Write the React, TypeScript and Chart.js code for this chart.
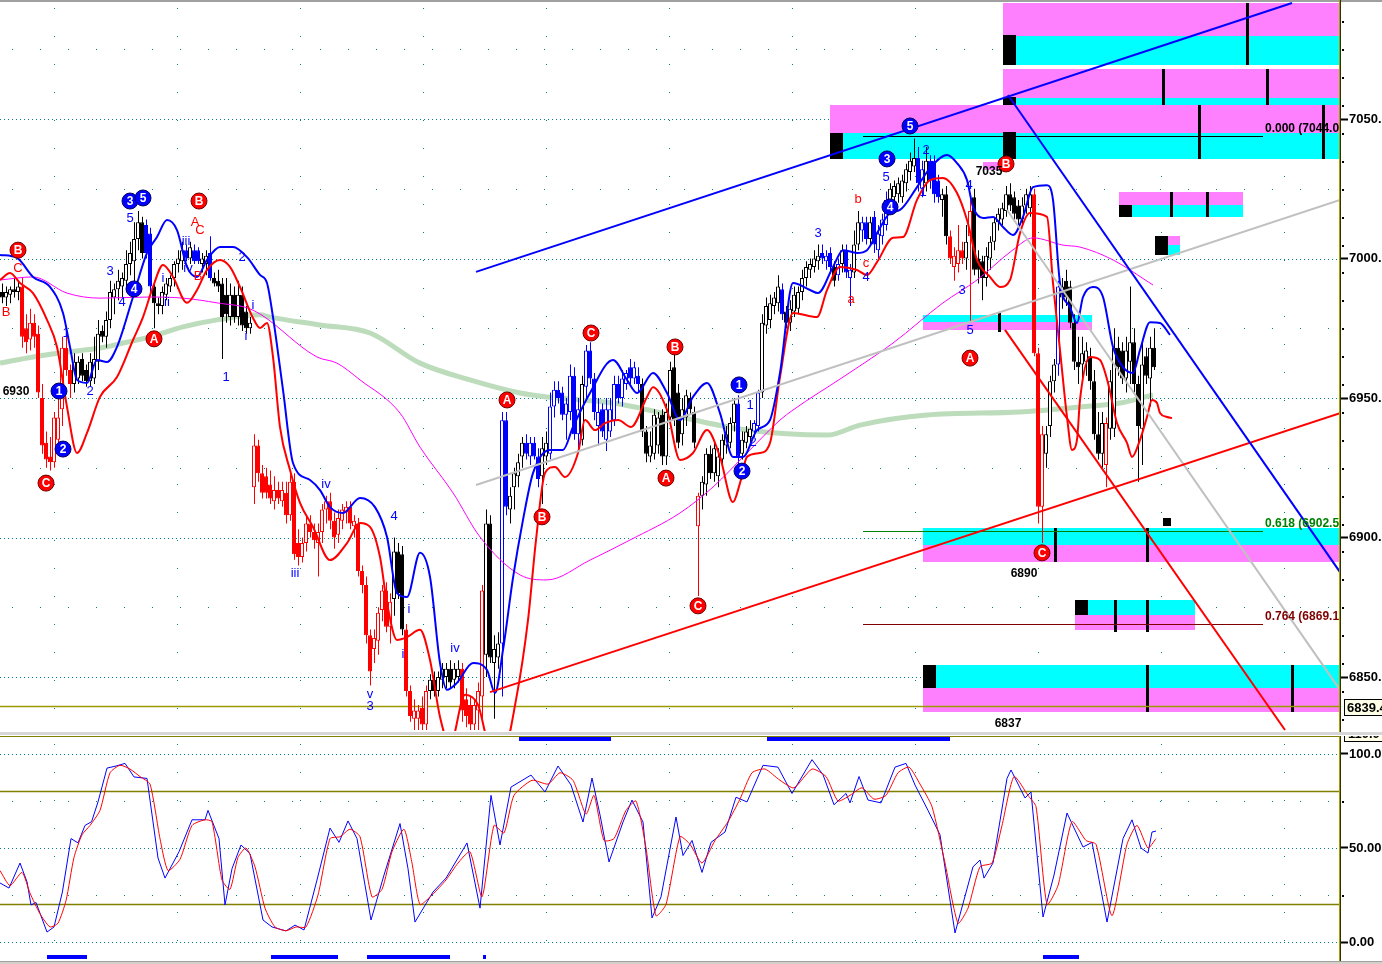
import React, { useEffect, useRef } from 'react';
import { Chart, registerables } from 'chart.js';

Chart.register(...registerables);

const FONT = '"Liberation Sans", Arial, Helvetica, sans-serif';

// ---------------- candles (one per bar index) ----------------
const opens = [
  6988, 6986, 6987, 6989, 6988, 6990, 6975, 6971, 6977, 6973, 6950, 6934, 6929, 6927, 6935, 6946, 6968, 6960, 6955, 6957,
  6964, 6960, 6956, 6957, 6963, 6974, 6972, 6978, 6986, 6989, 6990, 6992, 6998, 6999, 7007, 7013, 7012, 7009, 6990, 6984,
  6983, 6987, 6990, 6993, 6998, 6999, 7003, 7000, 7003, 7003, 6998, 6998, 7002, 6993, 6992, 6991, 6987, 6979, 6987, 6979,
  6987, 6981, 6975, 6918, 6933, 6923, 6922, 6919, 6913, 6917, 6913, 6916, 6908, 6920, 6898, 6893, 6898, 6905, 6902, 6898,
  6902, 6910, 6913, 6906, 6901, 6906, 6909, 6911, 6904, 6905, 6888, 6883, 6865, 6860, 6863, 6874, 6881, 6868, 6878, 6895,
  6894, 6867, 6845, 6835, 6835, 6839, 6833, 6845, 6849, 6845, 6849, 6850, 6853, 6849, 6850, 6853, 6842, 6840, 6833, 6838,
  6843, 6858, 6905, 6855, 6857, 6862, 6942, 6910, 6918, 6922, 6929, 6934, 6929, 6934, 6929, 6922, 6929, 6930, 6947, 6953,
  6952, 6944, 6945, 6958, 6937, 6935, 6954, 6967, 6957, 6940, 6946, 6935, 6938, 6942, 6955, 6950, 6955, 6961, 6957, 6958,
  6955, 6938, 6929, 6930, 6933, 6944, 6929, 6943, 6961, 6952, 6937, 6943, 6950, 6945, 6904, 6915, 6919, 6930, 6923, 6922,
  6928, 6933, 6934, 6941, 6948, 6930, 6934, 6936, 6938, 6940, 6952, 6976, 6978, 6983, 6984, 6989, 6981, 6977, 6981, 6982,
  6988, 6993, 6996, 6997, 6999, 7002, 6999, 7002, 6997, 6994, 6998, 7003, 6993, 6995, 7005, 7010, 7013, 7007, 7015, 7003,
  7008, 7012, 7020, 7022, 7023, 7022, 7027, 7031, 7033, 7036, 7025, 7027, 7035, 7035, 7028, 7021, 7023, 7008, 6997, 6998,
  7003, 7000, 7008, 7022, 7000, 6999, 6993, 7000, 7006, 7013, 7014, 7017, 7023, 7022, 7019, 7014, 7019, 7018, 7023, 6966,
  6911, 6930, 6940, 6956, 6962, 6986, 6992, 6990, 6977, 6963, 6962, 6963, 6965, 6956, 6937, 6930, 6926, 6939, 6939, 6968,
  6967, 6957, 6963, 6970, 6955, 6939, 6965, 6957, 6968
];
const highs = [
  6991, 6990, 6990, 6993, 6992, 6993, 6980, 6982, 6980, 6976, 6955, 6938, 6936, 6945, 6950, 6972, 6975, 6962, 6966, 6965,
  6966, 6962, 6966, 6972, 6978, 6976, 6981, 6992, 6991, 6996, 6995, 7003, 7006, 7013, 7017, 7015, 7014, 7011, 6992, 6986,
  6990, 6993, 6994, 6999, 7003, 7006, 7005, 7006, 7005, 7004, 7002, 7003, 7008, 6995, 6996, 6993, 6993, 6991, 6990, 6992,
  6990, 6983, 6979, 6937, 6935, 6926, 6925, 6924, 6922, 6920, 6920, 6920, 6923, 6923, 6903, 6900, 6908, 6908, 6905, 6905,
  6912, 6915, 6916, 6909, 6910, 6912, 6913, 6913, 6908, 6907, 6890, 6886, 6867, 6867, 6875, 6883, 6884, 6880, 6900, 6898,
  6897, 6869, 6847, 6842, 6840, 6843, 6847, 6851, 6852, 6852, 6855, 6855, 6856, 6855, 6856, 6855, 6846, 6843, 6842, 6848,
  6883, 6910, 6908, 6865, 6866, 6945, 6945, 6918, 6925, 6930, 6936, 6937, 6936, 6936, 6932, 6936, 6938, 6952, 6956, 6956,
  6954, 6950, 6962, 6961, 6950, 6958, 6969, 6970, 6959, 6950, 6948, 6950, 6950, 6958, 6958, 6960, 6960, 6964, 6963, 6961,
  6957, 6940, 6938, 6946, 6945, 6946, 6948, 6963, 6966, 6955, 6950, 6953, 6952, 6947, 6916, 6922, 6932, 6933, 6934, 6932,
  6937, 6940, 6943, 6950, 6951, 6938, 6940, 6942, 6942, 6953, 6980, 6986, 6987, 6988, 6994, 6991, 6983, 6985, 6990, 6990,
  6996, 6999, 7000, 7003, 7005, 7005, 7003, 7004, 6999, 7000, 7005, 7005, 6998, 7010, 7017, 7015, 7015, 7015, 7017, 7012,
  7016, 7024, 7027, 7028, 7029, 7030, 7034, 7038, 7043, 7040, 7035, 7040, 7037, 7037, 7030, 7025, 7026, 7010, 7004, 7012,
  7006, 7012, 7023, 7025, 7003, 7001, 7004, 7008, 7015, 7018, 7020, 7026, 7027, 7024, 7021, 7022, 7025, 7026, 7025, 6968,
  6940, 6940, 6958, 6964, 6992, 6993, 6996, 6992, 6980, 6972, 6972, 6970, 6968, 6960, 6945, 6945, 6943, 6960, 6975, 6972,
  6970, 6972, 6990, 6975, 6958, 6970, 6968, 6972, 6975
];
const lows = [
  6984, 6983, 6984, 6986, 6985, 6968, 6966, 6967, 6968, 6950, 6930, 6925, 6924, 6925, 6930, 6940, 6958, 6950, 6952, 6955,
  6956, 6954, 6954, 6955, 6960, 6970, 6968, 6975, 6980, 6985, 6986, 6988, 6994, 6990, 7003, 7000, 7000, 6988, 6975, 6980,
  6980, 6985, 6988, 6990, 6995, 6996, 6999, 6998, 6998, 6998, 6995, 6994, 6992, 6990, 6988, 6964, 6977, 6976, 6977, 6976,
  6974, 6973, 6973, 6912, 6920, 6914, 6914, 6912, 6910, 6912, 6911, 6905, 6906, 6892, 6890, 6891, 6895, 6900, 6896, 6886,
  6898, 6905, 6903, 6896, 6898, 6903, 6905, 6903, 6900, 6886, 6880, 6862, 6847, 6855, 6858, 6870, 6866, 6862, 6872, 6878,
  6865, 6843, 6834, 6831, 6831, 6831, 6831, 6842, 6843, 6843, 6846, 6846, 6846, 6846, 6848, 6834, 6832, 6831, 6831, 6831,
  6835, 6850, 6855, 6835, 6853, 6843, 6908, 6905, 6910, 6918, 6925, 6928, 6926, 6928, 6918, 6912, 6926, 6928, 6943, 6948,
  6942, 6935, 6942, 6935, 6932, 6933, 6950, 6955, 6942, 6933, 6936, 6931, 6936, 6940, 6948, 6947, 6953, 6955, 6955, 6952,
  6936, 6927, 6927, 6928, 6930, 6926, 6926, 6940, 6940, 6932, 6933, 6940, 6944, 6932, 6879, 6910, 6915, 6921, 6920, 6918,
  6925, 6930, 6932, 6938, 6926, 6928, 6932, 6933, 6936, 6938, 6950, 6973, 6975, 6980, 6981, 6978, 6975, 6974, 6979, 6980,
  6985, 6990, 6993, 6995, 6996, 6998, 6996, 6995, 6990, 6992, 6995, 6993, 6983, 6993, 7003, 7006, 7005, 7005, 7002, 7000,
  7005, 7010, 7017, 7020, 7020, 7020, 7024, 7028, 7031, 7024, 7022, 7024, 7025, 7020, 7020, 7015, 7005, 6998, 6992, 6995,
  6998, 6996, 6977, 6994, 6991, 6985, 6990, 6996, 7003, 7010, 7012, 7015, 7017, 7014, 7012, 7012, 7016, 7015, 6965, 6905,
  6898, 6925, 6936, 6952, 6958, 6982, 6983, 6975, 6960, 6955, 6955, 6958, 6953, 6935, 6928, 6925, 6918, 6935, 6936, 6958,
  6955, 6952, 6955, 6952, 6920, 6926, 6955, 6947, 6960
];
const closes = [
  6986, 6988, 6989, 6988, 6990, 6972, 6970, 6977, 6972, 6952, 6933, 6928, 6927, 6943, 6943, 6968, 6960, 6955, 6963, 6963,
  6958, 6956, 6963, 6964, 6973, 6972, 6978, 6988, 6989, 6992, 6993, 6998, 7002, 7007, 7013, 7002, 7002, 6990, 6984, 6983,
  6988, 6991, 6993, 6998, 7000, 7003, 7000, 7004, 6999, 6999, 7000, 7001, 6993, 6991, 6990, 6979, 6980, 6987, 6979, 6987,
  6976, 6975, 6977, 6933, 6923, 6916, 6916, 6914, 6917, 6914, 6917, 6908, 6920, 6894, 6893, 6898, 6905, 6902, 6899, 6902,
  6910, 6913, 6906, 6900, 6907, 6910, 6911, 6905, 6906, 6888, 6883, 6865, 6852, 6864, 6873, 6881, 6868, 6877, 6895, 6880,
  6867, 6845, 6836, 6838, 6838, 6833, 6845, 6849, 6845, 6850, 6853, 6853, 6848, 6853, 6853, 6838, 6836, 6833, 6840, 6845,
  6881, 6905, 6857, 6860, 6862, 6942, 6911, 6915, 6923, 6927, 6934, 6930, 6934, 6929, 6921, 6932, 6934, 6947, 6953, 6950,
  6944, 6948, 6958, 6937, 6946, 6955, 6967, 6957, 6945, 6945, 6938, 6946, 6946, 6955, 6950, 6957, 6959, 6957, 6961, 6955,
  6938, 6930, 6933, 6944, 6943, 6929, 6945, 6960, 6942, 6934, 6946, 6951, 6946, 6934, 6915, 6920, 6930, 6923, 6932, 6929,
  6935, 6937, 6941, 6948, 6929, 6935, 6938, 6939, 6941, 6952, 6977, 6983, 6984, 6986, 6990, 6980, 6977, 6982, 6987, 6988,
  6993, 6997, 6998, 7000, 7001, 7000, 7001, 6997, 6992, 6998, 7003, 6995, 6996, 7005, 7013, 7013, 7007, 7013, 7005, 7009,
  7014, 7021, 7025, 7026, 7027, 7028, 7032, 7035, 7036, 7027, 7032, 7035, 7028, 7023, 7022, 7023, 7008, 7000, 7001, 7003,
  7000, 7006, 7017, 6996, 6996, 6993, 7001, 7006, 7013, 7016, 7018, 7023, 7019, 7016, 7014, 7019, 7023, 7023, 6966, 6911,
  6937, 6937, 6956, 6962, 6990, 6990, 6986, 6977, 6963, 6961, 6966, 6967, 6956, 6937, 6930, 6941, 6941, 6956, 6968, 6961,
  6957, 6967, 6970, 6955, 6940, 6962, 6958, 6968, 6961
];
// k = black/white, r = red, b = blue candles (run-length)
const candleColorRuns: [string, number][] = [
  ['k', 5], ['r', 13], ['k', 18], ['b', 2], ['k', 8], ['b', 1], ['k', 1], ['b', 2], ['k', 2], ['b', 1], ['k', 10],
  ['r', 35], ['k', 3], ['r', 6], ['k', 8], ['r', 6], ['k', 4], ['b', 2], ['k', 4], ['b', 4], ['k', 2], ['b', 8],
  ['k', 1], ['b', 14], ['k', 14], ['r', 1], ['k', 9], ['b', 1], ['k', 3], ['b', 2], ['k', 5], ['b', 1], ['k', 9],
  ['b', 3], ['k', 1], ['b', 1], ['k', 1], ['b', 2], ['k', 2], ['b', 2], ['k', 1], ['b', 4], ['k', 7], ['b', 2],
  ['k', 1], ['b', 3], ['k', 2], ['r', 4], ['k', 1], ['r', 1], ['k', 15], ['r', 3], ['k', 3], ['b', 1], ['k', 11],
  ['r', 1], ['k', 12]
];

// ---------------- overlay lines ----------------
const greenMaIdx = [-0.5, 7.75, 16.25, 24.5, 30.25, 37, 45.25, 53.75, 64.5, 67, 79.5, 92, 104.5, 117, 129.5, 136.25, 152.75, 169.5, 186.25, 206.25, 214.5, 231.25, 254.5, 269.5, 279.5, 287.75];
const greenMaVal = [6962.5, 6964.7, 6966.5, 6967.9, 6969.7, 6971.9, 6975.5, 6978, 6979.8, 6979, 6976.2, 6973.3, 6962.5, 6956.5, 6951.8, 6950.4, 6948.2, 6943.2, 6938.5, 6936.7, 6940.3, 6943.9, 6945, 6946.8, 6948.2, 6951.1];

const magentaIdx = [-0.5, 7.75, 16.25, 24.5, 37, 45.25, 53.75, 62.75, 78.75, 83.75, 89.5, 99.5, 104.5, 112.75, 119.5, 129.5, 136.25, 147, 157, 169.5, 177.75, 186.25, 194.5, 197.75, 210.25, 222.75, 235.25, 243.75, 252.75, 257.75, 265.25, 269.5, 277.75, 287.75];
const magentaVal = [6992.3, 6993.4, 6987.6, 6985.8, 6986.2, 6985.8, 6984.1, 6981.5, 6964.7, 6962.5, 6956.5, 6944.6, 6932.4, 6916, 6900.2, 6886.6, 6884.8, 6891.9, 6899.1, 6908.8, 6918.1, 6930.3, 6942.1, 6945.7, 6957.5, 6969.7, 6984.1, 6992.3, 7003.1, 7007.4, 7004.8, 7004.1, 6999.5, 6990.5];

const blueBandIdx = [-0.5, 3.75, 7.75, 12, 15.25, 17, 18.75, 21.25, 23.75, 26.25, 28.75, 32.75, 36.25, 38.75, 41.25, 43.75, 46.25, 48.75, 51.25, 54.5, 57.75, 61.25, 64.5, 66.25, 67.75, 70.25, 72.75, 77, 79.5, 82, 85.25, 89.5, 93.25, 96.25, 98.75, 101.25, 104.5, 107, 109.5, 111.25, 113.75, 117.75, 121.25, 123.25, 125.25, 127.75, 130.25, 132.75, 137, 140.25, 142.75, 147, 152.75, 156.25, 158.75, 162.75, 166.25, 169.5, 172.75, 176.25, 179.5, 182.75, 185.25, 188.75, 192, 194.5, 197.75, 202, 204, 207.75, 210.25, 213.75, 216.25, 218.75, 222, 224.5, 228.75, 232, 236.25, 238.75, 241.25, 242.75, 245.25, 247.75, 250.25, 252.75, 255.25, 257.75, 261.25, 262.75, 264.5, 267, 268.75, 270.25, 272.75, 275.25, 277.75, 280.25, 282.75, 284.5, 287, 289.5, 292];
const blueBandVal = [7001.3, 7000.2, 6993.4, 6989.8, 6980.5, 6968.3, 6956.5, 6955.4, 6963.6, 6962.9, 6968.3, 6986.2, 7002, 7007.7, 7013.8, 7010.2, 6997, 6993.4, 6999.5, 7004.1, 7004.1, 7000.5, 6994.1, 6991.2, 6979, 6952.9, 6926.7, 6920.6, 6917, 6910.9, 6908.8, 6914.2, 6910.9, 6900.2, 6880.1, 6878.7, 6894.5, 6885.9, 6855, 6845.4, 6847.9, 6855, 6852.5, 6844.3, 6859.7, 6885.5, 6906.3, 6923.1, 6931.4, 6931.4, 6939.6, 6951.8, 6963.6, 6956.5, 6951.8, 6959, 6951.8, 6942.1, 6950.4, 6955.4, 6944.6, 6928.9, 6928.9, 6938.5, 6942.1, 6959, 6991.2, 6988.7, 6987.6, 6997, 7003, 7002, 7003, 7009.1, 7016.3, 7017.4, 7025.6, 7032.4, 7037.1, 7034.2, 7028.1, 7018.5, 7014.5, 7014.9, 7011.3, 7008.4, 7014.9, 7025.6, 7026.3, 7021, 6991.2, 6982.6, 6976.9, 6986.2, 6989.8, 6986.2, 6968.3, 6961.1, 6959, 6967.2, 6977.2, 6976.9, 6972.6];

const redBandIdx = [-0.5, 2, 4.5, 7.75, 11.25, 13.75, 16.25, 18.75, 21.25, 24.5, 28.75, 32.75, 35.25, 37.75, 40.25, 42.75, 46.25, 48.75, 51.25, 54.5, 57, 59.5, 62.75, 64.5, 66.25, 67.75, 69.5, 72, 74.5, 77.75, 82, 86.25, 89.5, 92, 94.5, 96.25, 98.75, 101.25, 104.5, 107, 109.5, 112, 115.75, 119, 122, 125.75, 128.5, 131.5, 133.5, 135.75, 138.25, 140.75, 144, 145.75, 148.25, 150.75, 154, 157.25, 161.25, 162.75, 166.25, 169.5, 172.75, 176.25, 179.5, 182.75, 184.5, 186.25, 189.5, 192, 194.5, 197.75, 203.75, 206.25, 209.5, 213.75, 216.25, 218.75, 222.75, 225.25, 228.75, 232, 235.25, 238.75, 241.25, 243.75, 247, 249.5, 252, 254.5, 257, 261.25, 262.75, 264.5, 266.25, 267.5, 268.75, 269.5, 272, 274.5, 276.5, 278.75, 281.25, 282.5, 284.5, 286.25, 287.5, 288.75, 289.5, 291.25, 292.5];
const redBandVal = [6992.3, 6994.8, 6991.2, 6987.6, 6978, 6968.3, 6946.8, 6930.3, 6937.5, 6950.4, 6957.5, 6970.8, 6979, 6989.8, 6997.7, 6993.4, 6984.1, 6988.7, 6995.9, 6999.5, 6997, 6989.8, 6978.7, 6975.1, 6976.9, 6964.7, 6939.6, 6924.2, 6912.4, 6903.8, 6891.9, 6898, 6905.2, 6903.8, 6893, 6876.5, 6863.3, 6864.3, 6866.9, 6856.1, 6835.7, 6825.6, 6843.6, 6840, 6825.6, 6825.6, 6841.8, 6870.4, 6899.1, 6923.1, 6925.3, 6921.7, 6930.3, 6942.1, 6938.5, 6941, 6942.1, 6939.6, 6950.4, 6953.9, 6945.7, 6927.8, 6930.3, 6938.5, 6928.9, 6912.7, 6919.5, 6928.9, 6930.3, 6933.9, 6957.5, 6980.5, 6979, 6988.7, 6997, 6995.9, 6994.1, 6998.7, 7007.4, 7007.7, 7021, 7028.1, 7028.9, 7023.5, 7013.8, 6999.5, 6993.4, 6989.8, 6992.3, 7009.1, 7016.3, 7014.9, 6991.2, 6967.2, 6943.2, 6931.4, 6935, 6949.3, 6964.7, 6963.6, 6955.4, 6941, 6933.9, 6928.9, 6935, 6943.2, 6949.3, 6948.2, 6944.6, 6943.2, 6942.8];

// straight trend lines: blue up, blue down, red up, red down, gray up, gray down
const trendIdx = [[118.5, 322.5], [251.5, 334.5], [122, 334.5], [250.75, 320.75], [118.5, 334.5], [251.25, 334.5]];
const trendVal = [[6995.2, 7091.6], [7058.6, 6887.6], [6844.6, 6944.6], [6974.4, 6831.0], [6918.8, 7021.0], [7017.4, 6845.4]];
const trendColors = ['#0000ff', '#0000ff', '#ff0000', '#ff0000', '#c0c0c0', '#c0c0c0'];

// ---------------- zones (index from, index to, price top, price bottom, kind) ----------------
const zoneIdx = [
  [250.25, 334.5], [250.25, 334.5], [250.25, 253.5], [250.25, 334.5], [250.25, 334.5], [250.25, 253.5],
  [207, 334.5], [207, 334.5], [207, 210.25], [250.25, 253.5], [279.25, 310.25], [279.25, 310.25], [279.25, 282.5],
  [288.25, 294.5], [288.25, 294.5], [288.25, 291.5], [230.25, 272.5], [230.25, 272.5], [230.25, 334.5], [230.25, 334.5],
  [268.25, 298.25], [268.25, 298.25], [268.25, 271.5], [230.25, 334.5], [230.25, 334.5], [230.25, 233.5], [290.25, 292.25],
  [245.25, 251.25]
];
const zonePrice = [
  [7091.6, 7079.7], [7079.7, 7069.4], [7080.0, 7069.4], [7067.9, 7057.5], [7057.5, 7055.0], [7057.8, 7055.0],
  [7055.0, 7045.0], [7045.0, 7035.7], [7045.0, 7035.7], [7045.3, 7035.7], [7023.8, 7019.2], [7019.2, 7014.9], [7019.2, 7014.9],
  [7008.1, 7004.8], [7004.8, 7001.3], [7008.1, 7001.3], [6979.8, 6977.2], [6977.2, 6974.4], [6903.4, 6897.3], [6897.3, 6891.2],
  [6877.6, 6872.2], [6872.2, 6866.8], [6877.6, 6872.2], [6854.3, 6846.1], [6846.1, 6837.5], [6854.3, 6846.1], [6907.0, 6904.1],
  [7034.6, 7031.7]
];
const zoneKind = ['m', 'c', 'k', 'm', 'c', 'k', 'm', 'c', 'k', 'k', 'm', 'c', 'k', 'm', 'c', 'k', 'c', 'm', 'c', 'm', 'c', 'm', 'k', 'c', 'm', 'k', 'k', 'm'];
const zoneBarIdx = [311.25, 290.25, 316.25, 299.25, 330.25, 292.25, 301.25, 249.25, 263.25, 286.25, 278.25, 286.25, 286.25, 322.5];
const zoneBarTop = [7091.6, 7067.9, 7067.9, 7055, 7055, 7023.8, 7023.8, 6980.5, 6903.4, 6903.4, 6877.6, 6877.6, 6854.3, 6854.3];
const zoneBarBottom = [7069.4, 7055, 7055, 7035.7, 7035.7, 7014.9, 7014.9, 6973.7, 6891.2, 6891.2, 6866.1, 6866.1, 6837.5, 6837.5];

const fibValues = [7044.0, 6902.5, 6869.1];
const fibLabels = ['0.000 (7044.0)', '0.618 (6902.5)', '0.764 (6869.1)'];
const fibColors = ['#000000', '#008000', '#800000'];
const fibFromIdx = 215.25;
const fibToIdx = 315.25;
const baselinePrice = 6839.4;

// ---------------- wave labels ----------------
const circleText = ['B', 'C', '1', '2', '3', '5', '4', 'B', 'A', 'A', 'B', 'C', 'B', 'A', 'C', '1', '2', '3', '5', '4', 'B', 'A', 'C'];
const circleIdx = [4, 11, 14.25, 15.25, 32, 35.25, 33, 49.25, 38, 126.25, 135, 147.25, 168.25, 166, 174, 184.25, 185, 221.25, 227, 222, 251, 242, 260];
const circlePrice = [7003.0, 6919.5, 6952.5, 6931.7, 7020.6, 7021.7, 6989.1, 7020.6, 6971.2, 6949.3, 6907.4, 6973.3, 6968.3, 6921.3, 6875.5, 6954.7, 6923.8, 7035.7, 7047.5, 7018.5, 7033.9, 6964.3, 6894.5];
const circleKind = ['r', 'r', 'b', 'b', 'b', 'b', 'b', 'r', 'r', 'r', 'r', 'r', 'r', 'r', 'r', 'b', 'b', 'b', 'b', 'b', 'r', 'r', 'r'];

const waveText = ['B', 'C', 'A', 'C', 'B', 'a', 'b', 'c', '1', '2', '3', '4', '5', 'i', 'ii', 'iii', 'iv', '2', 'i', 'i', '1', 'iv', 'iii', '4', 'i', 'i', 'v', '3', 'iv', '1', '2', '3', '4', '5', '2', '1', '4', '3', '5'];
const waveIdx = [1, 4, 48.25, 49.5, 49, 212.25, 214, 216, 16, 22, 27, 30, 32, 40.25, 41.25, 46, 46.5, 60, 62.75, 61, 56, 81, 73.25, 98, 101.75, 100.25, 92, 92, 113.25, 187, 187.75, 204, 216, 221, 231, 230.25, 241.75, 240, 242];
const wavePrice = [6980.8, 6996.6, 7013.1, 7010.2, 6993.7, 6985.5, 7021.3, 6998.4, 6973.3, 6952.5, 6995.5, 6984.4, 7014.5, 6993, 6984.4, 7006.3, 6996.6, 7000.5, 6983.3, 6972.2, 6957.5, 6919.2, 6887.3, 6907.7, 6874.4, 6858, 6843.9, 6839.6, 6860.4, 6947.5, 6934.2, 7009.1, 6993.4, 7029.2, 7038.9, 7023.8, 7026.3, 6988.4, 6974.4];
const waveKind = ['r', 'r', 'r', 'r', 'r', 'r', 'r', 'r', 'b', 'b', 'b', 'b', 'b', 'b', 'b', 'b', 'b', 'b', 'b', 'b', 'b', 'b', 'b', 'b', 'b', 'b', 'b', 'b', 'b', 'b', 'b', 'b', 'b', 'b', 'b', 'b', 'b', 'b', 'b'];

const noteText = ['6930', '7035', '6890', '6837'];
const noteIdx = [3.5, 246.75, 255.5, 251.5];
const notePrice = [6952.2, 7031, 6886.9, 6833.2];

const priceTicks = [6850, 6900, 6950, 7000, 7050];
const priceMinorLevels = [6875, 6925, 6975, 7025, 7075];
const PRICE_MIN = 6830.65;
const PRICE_MAX = 7091.94;
const IDX_MIN = -0.5;
const IDX_MAX = 334.5;

// ---------------- stochastic ----------------
const kIdx = [-0.5, 1.75, 4.5, 6.25, 7.25, 8.5, 11.25, 13, 15.1, 17.25, 19, 20.75, 22.4, 24, 26.25, 28.5, 30.75, 33, 36.25, 39, 40.75, 44.25, 47.5, 50.75, 51.5, 54.25, 55.75, 57.5, 59.75, 62, 65.25, 67.5, 71, 73.25, 75.5, 78.75, 82, 84.25, 86.5, 88.75, 92.25, 95.5, 99.5, 101.5, 103.25, 107.75, 111, 116.25, 119.5, 122.25, 124.5, 127.25, 132.25, 135.75, 139, 142.25, 145.25, 147.5, 149.5, 151.75, 155.25, 157.5, 160.25, 162.5, 164.75, 168.5, 170.25, 172.5, 175, 177.25, 180.75, 183.5, 186.25, 190.25, 194, 197.5, 202.5, 205.25, 208, 211, 212, 214.25, 216.5, 219.75, 223.25, 226, 228.25, 231.5, 234.5, 238.25, 242.75, 244.5, 245.5, 247.75, 251.25, 252.25, 255.75, 257.25, 260.25, 263, 266.25, 270.25, 272.5, 276.25, 280.25, 282.5, 284.75, 286.5, 287.5, 288.5];
const kVal = [31.4, 28.7, 42, 32, 19.7, 21, 5.3, 8, 26.6, 55, 52.7, 62, 64, 74.5, 92.5, 93.6, 95, 87.8, 87, 44.7, 34, 48, 65, 65, 70, 55, 19.7, 39, 51.6, 47, 11.7, 8, 5.9, 9, 6.4, 33, 60.6, 53, 64.4, 55, 11.7, 35.6, 63, 39, 10.6, 26.6, 34, 52.7, 18, 78, 51.6, 82.4, 88.8, 79.8, 93.6, 83.5, 63.8, 87.2, 67.6, 42.6, 63.8, 75.5, 63.8, 12.8, 24, 66.5, 46, 54, 37, 53, 58.5, 77, 74.5, 94, 93, 79, 97, 89, 73, 79, 74, 88, 75.5, 74, 93, 95, 83.5, 70, 57, 4.8, 40, 43.6, 34, 42, 87, 91.5, 76.6, 79.8, 13.3, 35.6, 68.6, 50.5, 53, 10.6, 55, 65, 50, 47.3, 58.5, 59];
const dIdx = [-0.5, 2, 5, 7, 9.5, 12, 14, 16, 18, 20, 22, 24.5, 27, 29.5, 32, 34.5, 37, 39.5, 41.5, 44.5, 47.5, 50.75, 52.5, 55, 57, 59, 61, 63.25, 65.75, 68.25, 71, 73.5, 76, 79, 82, 84.5, 87, 89.5, 92.5, 95, 97.5, 100.5, 102.5, 104.5, 107.5, 111, 114, 117, 120, 123, 125.5, 128, 132.5, 136.5, 139.5, 142.75, 146, 148, 150.5, 153, 156, 158.5, 161, 163.5, 166, 169.5, 172, 175, 178.25, 181.5, 184.5, 187.5, 190.75, 194.5, 198, 202.5, 206, 209, 212, 215, 218, 221, 224, 226.75, 229.5, 232.5, 235.75, 239, 241.5, 244.5, 247.5, 250, 253, 256.5, 258.5, 261.25, 264, 267.5, 271, 273.5, 277.5, 281.25, 283.75, 286.5, 288.5];
const dVal = [38, 30, 37, 26, 15, 8, 10, 22, 45, 57, 62, 70, 90, 94, 92, 88, 84, 55, 38, 44, 62, 65, 64, 33, 28, 45, 50, 40, 18, 8, 6, 8, 8, 25, 55, 56, 60, 56, 24, 28, 48, 60, 42, 20, 25, 33, 42, 48, 24, 62, 58, 78, 86, 84, 90, 86, 68, 78, 54, 55, 70, 75, 50, 14, 20, 56, 52, 42, 54, 64, 76, 90, 92, 86, 82, 92, 88, 75, 78, 82, 76, 78, 90, 93, 84, 72, 42, 10, 18, 40, 42, 62, 88, 78, 72, 20, 30, 64, 54, 52, 14, 52, 62, 50, 55];
const oscLevels = [20, 80];
const oscTicks = [0, 50, 100];
const oscTickLabels = ['0.00', '50.00', '100.0'];
const oscMinorLevels = [25, 75];
const oscTopMarks = [[129.25, 152.25], [191.25, 237]];
const oscBottomMarks = [[11.25, 21.25], [67.25, 84], [91.25, 112], [120.25, 121], [260.25, 269.25]];
const OSC_MIN = -9.57;
const OSC_MAX = 109.57;

// ---------------- helpers ----------------
function expandRuns(runs: [string, number][]): string[] {
  const out: string[] = [];
  runs.forEach(([c, n]) => { for (let i = 0; i < n; i++) out.push(c); });
  return out;
}
const toPts = (xs: number[], ys: number[]) => xs.map((x, i) => ({ x, y: ys[i] }));
const gridColumns = (): number[] => { const c: number[] = []; for (let v = 13; v < IDX_MAX; v += 30.75) c.push(v); return c; };

function clipArea(ctx: CanvasRenderingContext2D, a: any) {
  ctx.beginPath();
  ctx.rect(a.left, a.top, a.right - a.left, a.bottom - a.top);
  ctx.clip();
}

function drawAxisLine(ctx: CanvasRenderingContext2D, a: any, h: number) {
  ctx.fillStyle = '#a0a000';
  ctx.fillRect(a.right - 1, 0, 1, h);
  ctx.fillStyle = '#303000';
  ctx.fillRect(a.right, 0, 1, h);
}

const mainOverlay = {
  id: 'mainOverlay',
  beforeDatasetsDraw(chart: any) {
    const { ctx, chartArea: a, scales } = chart;
    const X = (v: number) => scales.x.getPixelForValue(v);
    const Y = (v: number) => scales.y.getPixelForValue(v);
    ctx.save();
    clipArea(ctx, a);
    ctx.lineWidth = 1;
    ctx.strokeStyle = '#008080';
    ctx.setLineDash([1, 3]);
    priceTicks.forEach((v) => { const y = Math.round(Y(v)) + 0.5; ctx.beginPath(); ctx.moveTo(a.left, y); ctx.lineTo(a.right, y); ctx.stroke(); });
    ctx.setLineDash([1, 27]);
    priceMinorLevels.forEach((v) => { const y = Math.round(Y(v)) + 0.5; ctx.beginPath(); ctx.moveTo(a.left + 12, y); ctx.lineTo(a.right, y); ctx.stroke(); });
    gridColumns().forEach((c) => { const x = Math.round(X(c)) + 0.5; ctx.beginPath(); ctx.moveTo(x, a.top + 6); ctx.lineTo(x, a.bottom); ctx.stroke(); });
    ctx.setLineDash([]);
    const fills: Record<string, string> = { m: '#ff80ff', c: '#00ffff', k: '#000000' };
    zoneIdx.forEach((r, k) => {
      const x1 = Math.round(X(r[0])), x2 = Math.round(X(r[1]));
      const y1 = Math.round(Y(zonePrice[k][0])), y2 = Math.round(Y(zonePrice[k][1]));
      ctx.fillStyle = fills[zoneKind[k]];
      ctx.fillRect(x1, y1, x2 - x1, y2 - y1);
    });
    ctx.fillStyle = '#000';
    zoneBarIdx.forEach((b, k) => {
      const x = Math.round(X(b));
      const y1 = Math.round(Y(zoneBarTop[k])), y2 = Math.round(Y(zoneBarBottom[k]));
      ctx.fillRect(x - 1, y1, 3, y2 - y1);
    });
    fibValues.forEach((v, k) => {
      const y = Math.round(Y(v)) + 0.5;
      ctx.strokeStyle = fibColors[k];
      ctx.beginPath(); ctx.moveTo(X(fibFromIdx), y); ctx.lineTo(X(fibToIdx), y); ctx.stroke();
    });
    ctx.strokeStyle = '#9a9a00';
    ctx.lineWidth = 1.5;
    const by = Y(baselinePrice);
    ctx.beginPath(); ctx.moveTo(a.left, by); ctx.lineTo(a.right, by); ctx.stroke();
    ctx.restore();
  },
  afterDatasetsDraw(chart: any) {
    const { ctx, chartArea: a, scales } = chart;
    const X = (v: number) => scales.x.getPixelForValue(v);
    const Y = (v: number) => scales.y.getPixelForValue(v);
    ctx.save();
    clipArea(ctx, a);
    ctx.textAlign = 'center';
    ctx.textBaseline = 'middle';
    ctx.font = `13px ${FONT}`;
    waveText.forEach((t, k) => {
      ctx.fillStyle = waveKind[k] === 'r' ? '#ff0000' : '#0000ff';
      ctx.fillText(t, X(waveIdx[k]), Y(wavePrice[k]));
    });
    circleText.forEach((t, k) => {
      const cx = X(circleIdx[k]), cy = Y(circlePrice[k]);
      ctx.beginPath();
      ctx.arc(cx, cy, 8, 0, Math.PI * 2);
      ctx.fillStyle = circleKind[k] === 'r' ? '#ff0000' : '#0000ff';
      ctx.fill();
      ctx.lineWidth = 1;
      ctx.strokeStyle = circleKind[k] === 'r' ? '#700000' : '#000060';
      ctx.stroke();
      ctx.fillStyle = '#ffffff';
      ctx.font = `bold 12px ${FONT}`;
      ctx.fillText(t, cx, cy + 0.5);
    });
    ctx.fillStyle = '#000';
    ctx.font = `bold 12px ${FONT}`;
    noteText.forEach((t, k) => ctx.fillText(t, X(noteIdx[k]), Y(notePrice[k])));
    ctx.textAlign = 'left';
    ctx.textBaseline = 'bottom';
    fibLabels.forEach((t, k) => {
      ctx.fillStyle = fibColors[k];
      ctx.fillText(t, X(fibToIdx) + 2, Y(fibValues[k]) - 1);
    });
    ctx.restore();
  },
  afterDraw(chart: any) {
    const { ctx, chartArea: a, scales } = chart;
    const Y = (v: number) => scales.y.getPixelForValue(v);
    ctx.save();
    ctx.fillStyle = '#a0a0a0';
    ctx.fillRect(0, 0, chart.width, 2);
    drawAxisLine(ctx, a, chart.height);
    ctx.fillStyle = '#000';
    for (let v = 6835; v < PRICE_MAX; v += 10) {
      const y = Math.round(Y(v));
      ctx.fillRect(a.right + 2, y, 2, 2);
    }
    const by = Math.round(Y(baselinePrice));
    ctx.fillStyle = '#ffffe8';
    ctx.fillRect(a.right + 4, by - 8, 44, 17);
    ctx.strokeStyle = '#000';
    ctx.lineWidth = 1;
    ctx.strokeRect(a.right + 4.5, by - 7.5, 44, 16);
    ctx.fillStyle = '#000';
    ctx.font = `bold 13px ${FONT}`;
    ctx.textAlign = 'left';
    ctx.textBaseline = 'middle';
    ctx.fillText(baselinePrice.toFixed(2), a.right + 7, by + 1);
    ctx.restore();
  },
};

const oscOverlay = {
  id: 'oscOverlay',
  beforeDatasetsDraw(chart: any) {
    const { ctx, chartArea: a, scales } = chart;
    const X = (v: number) => scales.x.getPixelForValue(v);
    const Y = (v: number) => scales.y.getPixelForValue(v);
    ctx.save();
    clipArea(ctx, a);
    ctx.lineWidth = 1;
    ctx.strokeStyle = '#008080';
    ctx.setLineDash([1, 3]);
    oscTicks.forEach((v) => { const y = Math.round(Y(v)) + 0.5; ctx.beginPath(); ctx.moveTo(a.left, y); ctx.lineTo(a.right, y); ctx.stroke(); });
    ctx.setLineDash([1, 27]);
    oscMinorLevels.forEach((v) => { const y = Math.round(Y(v)) + 0.5; ctx.beginPath(); ctx.moveTo(a.left + 12, y); ctx.lineTo(a.right, y); ctx.stroke(); });
    gridColumns().forEach((c) => { const x = Math.round(X(c)) + 0.5; ctx.beginPath(); ctx.moveTo(x, a.top + 8); ctx.lineTo(x, a.bottom); ctx.stroke(); });
    ctx.setLineDash([]);
    ctx.strokeStyle = '#808000';
    ctx.lineWidth = 1.5;
    oscLevels.forEach((v) => { const y = Y(v); ctx.beginPath(); ctx.moveTo(a.left, y); ctx.lineTo(a.right, y); ctx.stroke(); });
    ctx.restore();
  },
  afterDraw(chart: any) {
    const { ctx, chartArea: a, scales } = chart;
    const X = (v: number) => scales.x.getPixelForValue(v);
    const Y = (v: number) => scales.y.getPixelForValue(v);
    ctx.save();
    ctx.fillStyle = '#808000';
    ctx.fillRect(0, 0, a.right, 1);
    ctx.fillStyle = '#0000ff';
    oscTopMarks.forEach(([s, e]) => ctx.fillRect(Math.round(X(s)), a.top + 1, Math.round(X(e)) - Math.round(X(s)), 4));
    oscBottomMarks.forEach(([s, e]) => ctx.fillRect(Math.round(X(s)), a.bottom - 5, Math.max(2, Math.round(X(e)) - Math.round(X(s))), 4));
    drawAxisLine(ctx, a, chart.height);
    ctx.fillStyle = '#000';
    oscMinorLevels.forEach((v) => ctx.fillRect(a.right + 2, Math.round(Y(v)), 2, 2));
    ctx.fillStyle = '#ffffe8';
    ctx.fillRect(a.right + 4, 0, 44, 6);
    ctx.strokeStyle = '#000';
    ctx.lineWidth = 1;
    ctx.strokeRect(a.right + 4.5, -8.5, 44, 14);
    ctx.fillStyle = '#000';
    ctx.font = `bold 13px ${FONT}`;
    ctx.textAlign = 'left';
    ctx.textBaseline = 'middle';
    ctx.fillText('110.0', a.right + 8, -2);
    ctx.restore();
  },
};

export default function App() {
  const mainRef = useRef<HTMLCanvasElement>(null);
  const oscRef = useRef<HTMLCanvasElement>(null);

  useEffect(() => {
    const colorCodes = expandRuns(candleColorRuns);
    const hex = (c: string) => (c === 'r' ? '#ff0000' : c === 'b' ? '#0000ff' : '#000000');
    const candleCol = opens.map((_, i) => hex(colorCodes[i] || 'k'));
    const bodyFill = opens.map((o, i) => (closes[i] < o ? candleCol[i] : '#ffffff'));
    const wickData = lows.map((l, i) => ({ x: i + 0.125, y: [l, highs[i]] }));
    const bodyData = opens.map((o, i) => ({ x: i, y: [Math.min(o, closes[i]), Math.max(o, closes[i])] }));

    const lineBase = { type: 'line' as const, pointRadius: 0, fill: false };
    const tickFont = { family: FONT, size: 13, weight: 'bold' };
    const main = new Chart(mainRef.current as HTMLCanvasElement, {
      type: 'bar',
      data: {
        datasets: [
          ...trendIdx.map((xs, k) => ({ ...lineBase, data: toPts(xs, trendVal[k]), borderColor: trendColors[k], borderWidth: 2, tension: 0 })),
          { ...lineBase, data: toPts(blueBandIdx, blueBandVal), borderColor: '#0000ff', borderWidth: 2, cubicInterpolationMode: 'monotone' },
          { ...lineBase, data: toPts(redBandIdx, redBandVal), borderColor: '#ff0000', borderWidth: 2, cubicInterpolationMode: 'monotone' },
          { ...lineBase, data: toPts(magentaIdx, magentaVal), borderColor: '#ff00ff', borderWidth: 1, cubicInterpolationMode: 'monotone' },
          { type: 'bar', data: bodyData, backgroundColor: bodyFill, borderColor: candleCol, borderWidth: 1, borderSkipped: false, barThickness: 4, grouped: false, minBarLength: 1, inflateAmount: 0 },
          { type: 'bar', data: wickData, backgroundColor: candleCol, borderWidth: 0, barThickness: 1, grouped: false, minBarLength: 1, inflateAmount: 0 },
          { ...lineBase, data: toPts(greenMaIdx, greenMaVal), borderColor: '#bcdcbc', borderWidth: 5, cubicInterpolationMode: 'monotone' },
        ] as any,
      },
      options: {
        responsive: false,
        maintainAspectRatio: false,
        animation: false,
        devicePixelRatio: 1,
        events: [],
        layout: { padding: { left: 0, right: 0, top: 2, bottom: 3 } },
        plugins: { legend: { display: false }, tooltip: { enabled: false } },
        scales: {
          x: { type: 'linear', min: IDX_MIN, max: IDX_MAX, display: false, offset: false },
          y: {
            type: 'linear', position: 'right', min: PRICE_MIN, max: PRICE_MAX,
            afterBuildTicks: (s: any) => { s.ticks = priceTicks.map((v) => ({ value: v })); },
            afterFit: (s: any) => { s.width = 42; s.paddingTop = 0; s.paddingBottom = 0; },
            grid: { drawOnChartArea: false, drawTicks: true, tickLength: 8, tickColor: '#000', tickWidth: 2 },
            border: { display: false },
            ticks: { color: '#000', padding: 1, font: tickFont, callback: (v: any) => Number(v).toFixed(2) },
          },
        },
      } as any,
      plugins: [mainOverlay],
    });

    const osc = new Chart(oscRef.current as HTMLCanvasElement, {
      type: 'line',
      data: {
        datasets: [
          { data: toPts(dIdx, dVal), borderColor: '#ff0000', borderWidth: 1, pointRadius: 0, tension: 0.2, fill: false },
          { data: toPts(kIdx, kVal), borderColor: '#0000ff', borderWidth: 1, pointRadius: 0, tension: 0, fill: false },
        ],
      },
      options: {
        responsive: false,
        maintainAspectRatio: false,
        animation: false,
        devicePixelRatio: 1,
        events: [],
        layout: { padding: { left: 0, right: 0, top: 0, bottom: 4 } },
        plugins: { legend: { display: false }, tooltip: { enabled: false } },
        scales: {
          x: { type: 'linear', min: IDX_MIN, max: IDX_MAX, display: false },
          y: {
            type: 'linear', position: 'right', min: OSC_MIN, max: OSC_MAX,
            afterBuildTicks: (s: any) => { s.ticks = oscTicks.map((v) => ({ value: v })); },
            afterFit: (s: any) => { s.width = 42; s.paddingTop = 0; s.paddingBottom = 0; },
            grid: { drawOnChartArea: false, drawTicks: true, tickLength: 8, tickColor: '#000', tickWidth: 2 },
            border: { display: false },
            ticks: { color: '#000', padding: 1, font: tickFont, callback: (v: any) => oscTickLabels[oscTicks.indexOf(Number(v))] ?? String(v) },
          },
        },
      } as any,
      plugins: [oscOverlay],
    });

    return () => { main.destroy(); osc.destroy(); };
  }, []);

  return (
    <div style={{ position: 'absolute', left: 0, top: 0, width: 1382, height: 964, background: '#ffffff', overflow: 'hidden' }}>
      <canvas ref={mainRef} width={1382} height={734} style={{ position: 'absolute', left: 0, top: 0, width: 1382, height: 734 }} />
      <div style={{ position: 'absolute', left: 0, top: 732, width: 1382, height: 3, background: '#d6d6d6' }} />
      <canvas ref={oscRef} width={1382} height={228} style={{ position: 'absolute', left: 0, top: 736, width: 1382, height: 228 }} />
      <div style={{ position: 'absolute', left: 0, top: 961, width: 1382, height: 3, background: '#d4d0c8', borderTop: '1px solid #a0a0a0' }} />
    </div>
  );
}
